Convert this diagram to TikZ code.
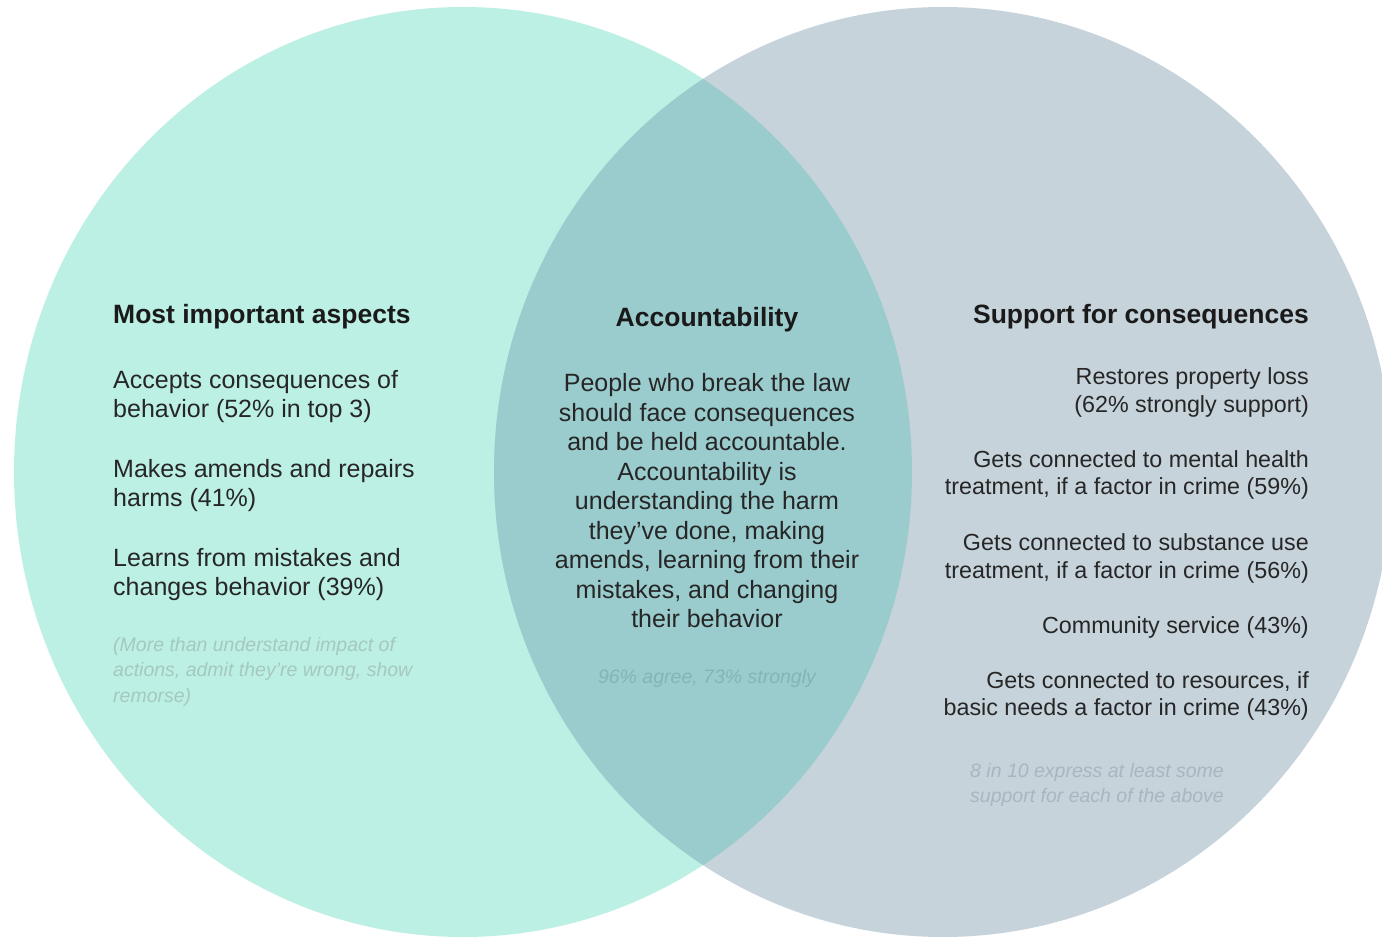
\documentclass[tikz,border=0pt]{standalone}
\usepackage{fontspec}
\setmainfont{Liberation Sans}
\definecolor{mint}{HTML}{BCF0E4}
\definecolor{slate}{HTML}{C6D3DB}
\definecolor{overlap}{HTML}{9ACBCD}
\definecolor{bodytext}{HTML}{262626}
\definecolor{headtext}{HTML}{1A1A1A}
\definecolor{noteL}{HTML}{A5C8C0}
\definecolor{noteC}{HTML}{84B4B6}
\definecolor{noteR}{HTML}{AAB6BF}
\tikzset{
  heading/.style={inner sep=0pt, text=headtext, font=\fontsize{26.5}{30}\selectfont\bfseries},
  bodyL/.style={inner sep=0pt, text=bodytext, align=left, anchor=base west, font=\fontsize{25}{29.6}\selectfont},
  bodyC/.style={inner sep=0pt, text=bodytext, align=center, anchor=base, font=\fontsize{25}{29.5}\selectfont},
  bodyR/.style={inner sep=0pt, text=bodytext, align=right, anchor=base east, font=\fontsize{23.3}{27.7}\selectfont},
  note/.style={inner sep=0pt, font=\fontsize{19.5}{25.5}\selectfont\itshape}
}
\begin{document}
\begin{tikzpicture}[x=1pt,y=-1pt]
\fill[white] (0,0) rectangle (1382,939);
\clip (0,0) rectangle (1382,939);
% circles
\fill[mint] (463,472) ellipse [x radius=449pt, y radius=465pt];
\fill[slate] (943,472) ellipse [x radius=449pt, y radius=465pt];
\begin{scope}
  \clip (463,472) ellipse [x radius=449pt, y radius=465pt];
  \fill[overlap] (943,472) ellipse [x radius=449pt, y radius=465pt];
\end{scope}
% left block (anchors are the baselines of the last lines)
\node[heading, anchor=base west] (lhead) at (113,323) {Most important aspects};
\node[bodyL] (l1) at (113,417.6) {Accepts consequences of\\behavior (52\% in top 3)};
\node[bodyL] (l2) at (113,506.6) {Makes amends and repairs\\harms (41\%)};
\node[bodyL] (l3) at (113,595.6) {Learns from mistakes and\\changes behavior (39\%)};
\node[note, text=noteL, align=left, anchor=base west] (lnote) at (113,702)
  {(More than understand impact of\\actions, admit they’re wrong, show\\remorse)};
% center block
\node[heading, anchor=base] (chead) at (707,326) {Accountability};
\node[bodyC] (c1) at (707,627.5) {People who break the law\\should face consequences\\and be held accountable.\\Accountability is\\understanding the harm\\they’ve done, making\\amends, learning from their\\mistakes, and changing\\their behavior};
\node[note, text=noteC, anchor=base] (cnote) at (707,683) {96\% agree, 73\% strongly};
% right block
\node[heading, anchor=base east] (rhead) at (1309,323) {Support for consequences};
\node[bodyR] (r1) at (1309,412.2) {Restores property loss\\(62\% strongly support)};
\node[bodyR] (r2) at (1309,494.7) {Gets connected to mental health\\treatment, if a factor in crime (59\%)};
\node[bodyR] (r3) at (1309,578.5) {Gets connected to substance use\\treatment, if a factor in crime (56\%)};
\node[bodyR] (r4) at (1309,633) {Community service (43\%)};
\node[bodyR] (r5) at (1309,715.7) {Gets connected to resources, if\\basic needs a factor in crime (43\%)};
\node[note, text=noteR, align=center, anchor=base] (rnote) at (1097,802.5)
  {8 in 10 express at least some\\support for each of the above};
\end{tikzpicture}
\end{document}
